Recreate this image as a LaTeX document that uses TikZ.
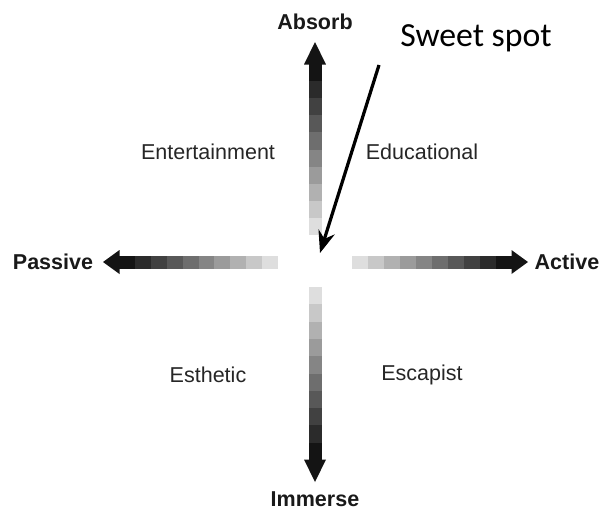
\documentclass[tikz,border=0pt]{standalone}
\usepackage{fontspec}
\setmainfont{Liberation Sans}
\newfontfamily\calibri{Carlito}
\usepackage{tikz}
\usetikzlibrary{arrows.meta,positioning,calc}
\definecolor{headblack}{RGB}{20,20,20}

\begin{document}
\begin{tikzpicture}[
    x=0.025cm, y=-0.025cm,
    axislabel/.style={font=\fontsize{15.3}{18}\selectfont\bfseries, text=black!90},
    quadlabel/.style={font=\fontsize{15.3}{18}\selectfont, text=black!85},
    tipshape/.style={fill=headblack, draw=none},
    arrow/.style={line width=2.3pt, -{Stealth[length=0.55cm, width=0.42cm]}}
]
\useasboundingbox (0,0) rectangle (600,509);

% gradient arms (dark at the outer end)
\foreach \i in {0,...,9} {
    \pgfmathsetmacro{\shade}{92-8.8*\i}
    \fill[black!\shade] (308.5,{64+17.1*\i}) rectangle (321.5,{64+17.1*(\i+1)});
    \fill[black!\shade] (308.5,{460-17.3*\i}) rectangle (321.5,{460-17.3*(\i+1)});
    \fill[black!\shade] ({119+15.9*\i},255.5) rectangle ({119+15.9*(\i+1)},268.5);
    \fill[black!\shade] ({512-16*\i},255.5) rectangle ({512-16*(\i+1)},268.5);
}

% arrow heads
\fill[tipshape] (315,42) -- (326,64.5) -- (304,64.5) -- cycle;
\fill[tipshape] (315,482) -- (326,459.5) -- (304,459.5) -- cycle;
\fill[tipshape] (103,262) -- (119.5,250) -- (119.5,274) -- cycle;
\fill[tipshape] (528,262) -- (511.5,250) -- (511.5,274) -- cycle;

% axis ends
\node[axislabel] (absorb) at (315,22) {Absorb};
\node[axislabel] (immerse) at (315,499) {Immerse};
\node[axislabel] (passive) at (53,262) {Passive};
\node[axislabel] (active) at (567,262) {Active};

% quadrants
\node[quadlabel] (entertain) at (208,152) {Entertainment};
\node[quadlabel] (educate) at (422,152) {Educational};
\node[quadlabel] (esthetic) at (208,375) {Esthetic};
\node[quadlabel] (escape) at (422,375) {Escapist};

% sweet spot
\node[font=\calibri\fontsize{24}{28}\selectfont] (sweet) at (476,38) {Sweet spot};
\coordinate (tail) at (379,65);
\coordinate (spot) at (320,253);
\draw[arrow] (tail) -- (spot);

\end{tikzpicture}
\end{document}
